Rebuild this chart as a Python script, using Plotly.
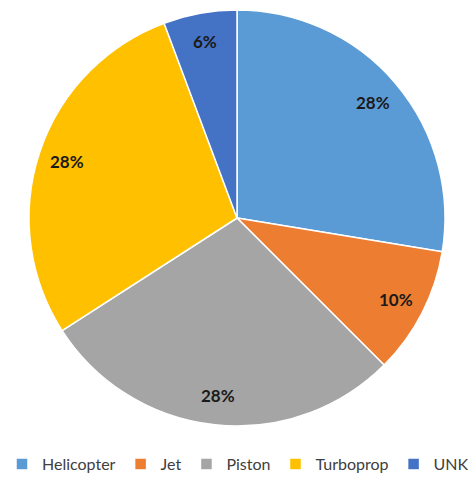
import math
import plotly.graph_objects as go

# Aircraft category shares (percent)
categories = ["Helicopter", "Jet", "Piston", "Turboprop", "UNK"]
shares = [27.6, 9.9, 28.4, 28.4, 5.7]
colors = ["#5B9BD5", "#ED7D31", "#A5A5A5", "#FFC000", "#4472C4"]

W, H = 476, 481
# pie box in pixels (left, right, top, bottom)
PX_L, PX_R, PX_T, PX_B = 29, 445, 10, 426
LABEL_R = 0.86  # label distance from centre, as a fraction of the radius

dom_x = [PX_L / W, PX_R / W]
dom_y = [(H - PX_B) / H, (H - PX_T) / H]

fig = go.Figure(
    go.Pie(
        labels=categories,
        values=shares,
        sort=False,
        direction="clockwise",
        rotation=0,
        marker=dict(colors=colors, line=dict(color="white", width=1.5)),
        textinfo="none",
        hoverinfo="label+percent",
        domain=dict(x=dom_x, y=dom_y),
    )
)

# percentage labels placed along each slice's mid-angle, toward the rim
cx = (PX_L + PX_R) / 2
cy = (PX_T + PX_B) / 2
radius = (PX_R - PX_L) / 2
total = sum(shares)
start = 0.0
for name, val in zip(categories, shares):
    mid = (start + val / 2) / total * 2 * math.pi
    start += val
    px = cx + LABEL_R * radius * math.sin(mid)
    py = cy - LABEL_R * radius * math.cos(mid)
    fig.add_annotation(
        x=px / W,
        y=1 - py / H,
        xref="paper",
        yref="paper",
        xanchor="center",
        yanchor="middle",
        text=f"{round(val / total * 100)}%",
        showarrow=False,
        font=dict(family="Lato, Open Sans, sans-serif", size=17, color="#1a1a1a", weight="bold"),
    )

fig.update_layout(
    width=W,
    height=H,
    margin=dict(l=0, r=0, t=0, b=0),
    paper_bgcolor="white",
    plot_bgcolor="white",
    showlegend=True,
    legend=dict(
        orientation="h",
        x=0.5,
        xanchor="center",
        y=0.0,
        yanchor="bottom",
        font=dict(family="Lato, Open Sans, sans-serif", size=16, color="#404040"),
        itemwidth=30,
        traceorder="normal",
    ),
)

fig.write_html("out.html")
